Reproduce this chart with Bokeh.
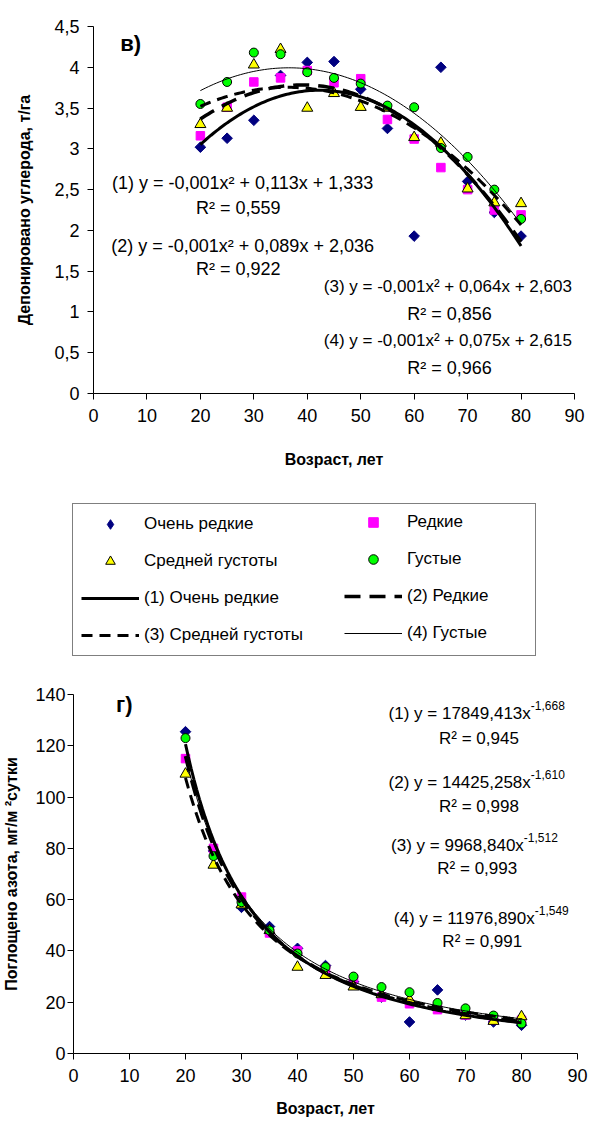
import numpy as np
from bokeh.plotting import figure
from bokeh.models import Range1d, FixedTicker, Label, Legend, LegendItem
from bokeh.embed import file_html
from bokeh.resources import INLINE

FONT = "Liberation Sans"

# ---------------- data ----------------
ages = [20, 25, 30, 35, 40, 45, 50, 55, 60, 65, 70, 75, 80]

carbon_very_sparse = [3.02, 3.13, 3.35, 3.90, 4.06, 4.07, 3.73, 3.25, 1.93, 4.00, 2.60, 2.22, 1.93]
carbon_sparse = [3.16, 3.51, 3.82, 3.87, 3.96, 3.81, 3.86, 3.36, 3.12, 2.77, 2.50, 2.25, 2.19]
carbon_medium = [3.30, 3.50, 4.03, 4.22, 3.50, 3.68, 3.51, 3.50, 3.14, 3.07, 2.51, 2.34, 2.33]
carbon_dense = [3.55, 3.82, 4.18, 4.16, 3.94, 3.87, 3.80, 3.53, 3.51, 3.01, 2.90, 2.50, 2.14]

nitrogen_very_sparse = [125.5, 79.0, 57.0, 49.5, 41.0, 34.3, 28.0, 22.0, 12.3, 24.8, 15.0, 12.3, 11.0]
nitrogen_sparse = [115.0, 80.0, 61.0, 47.0, 40.0, 33.0, 29.0, 22.0, 19.4, 17.1, 15.0, 13.0, 13.0]
nitrogen_medium = [109.0, 73.5, 58.0, 48.0, 33.7, 30.5, 26.0, 23.0, 21.0, 18.0, 14.8, 12.6, 14.4]
nitrogen_dense = [123.0, 77.0, 59.0, 48.0, 39.0, 33.7, 30.0, 25.9, 23.9, 19.7, 17.6, 14.8, 11.7]

power_coef = [17849.413, 14425.258, 9968.840, 11976.890]
power_exp = [-1.668, -1.610, -1.512, -1.549]

series_names = ["Очень редкие", "Редкие", "Средней густоты", "Густые"]
trend_names = ["(1) Очень редкие", "(2) Редкие", "(3) Средней густоты", "(4) Густые"]

carbon_eq = ["(1) y = -0,001x² + 0,113x + 1,333",
             "(2) y = -0,001x² + 0,089x + 2,036",
             "(3) y = -0,001x² + 0,064x + 2,603",
             "(4) y = -0,001x² + 0,075x + 2,615"]
carbon_r2 = ["R² = 0,559", "R² = 0,922", "R² = 0,856", "R² = 0,966"]
nitrogen_eq = ["(1) y = 17849,413x", "(2) y = 14425,258x", "(3) y = 9968,840x", "(4) y = 11976,890x"]
nitrogen_exp_txt = ["-1,668", "-1,610", "-1,512", "-1,549"]
nitrogen_r2 = ["R² = 0,945", "R² = 0,998", "R² = 0,993", "R² = 0,991"]

x_ticks = [0, 10, 20, 30, 40, 50, 60, 70, 80, 90]
carbon_ticks = [0, 0.5, 1, 1.5, 2, 2.5, 3, 3.5, 4, 4.5]
carbon_tick_labels = ["0", "0,5", "1", "1,5", "2", "2,5", "3", "3,5", "4", "4,5"]
nitrogen_ticks = [0, 20, 40, 60, 80, 100, 120, 140]
nitrogen_tick_labels = ["0", "20", "40", "60", "80", "100", "120", "140"]

# ---------------- styles ----------------
marker_styles = [
    dict(marker="square", size=7.5, angle=np.pi / 4, fill_color="#000080", line_color="#000080"),
    dict(marker="square", size=8.5, fill_color="#FF00FF", line_color="#FF00FF"),
    dict(marker="triangle", size=11, fill_color="#FFFF00", line_color="#000000", line_width=1),
    dict(marker="circle", size=9, fill_color="#00FF00", line_color="#000000", line_width=1),
]
legend_marker_styles = [
    dict(marker="diamond", fill_color="#000080", line_color="#000080"),
    dict(marker="square", fill_color="#FF00FF", line_color="#FF00FF"),
    dict(marker="triangle", fill_color="#FFFF00", line_color="#000000", line_width=1),
    dict(marker="circle", fill_color="#00FF00", line_color="#000000", line_width=1),
]
line_styles = [
    dict(line_width=3, line_dash="solid"),
    dict(line_width=3.5, line_dash="16 9"),
    dict(line_width=3, line_dash="11 7"),
    dict(line_width=1, line_dash="solid"),
]


def style(p, xt, yt, ylabels, y_standoff, ylab_standoff, xlab_standoff):
    p.outline_line_color = None
    p.xgrid.grid_line_color = None
    p.ygrid.grid_line_color = None
    p.background_fill_color = "white"
    p.border_fill_color = "white"
    for ax in (p.xaxis[0], p.yaxis[0]):
        ax.axis_line_color = "#000000"
        ax.major_tick_line_color = "#000000"
        ax.major_tick_in = 0
        ax.major_tick_out = 6
        ax.minor_tick_line_color = None
        ax.major_label_text_font = FONT
        ax.major_label_text_font_size = "18px"
        ax.major_label_text_color = "#000000"
        ax.axis_label_text_font = FONT
        ax.axis_label_text_font_size = "16px"
        ax.axis_label_text_font_style = "bold"
        ax.axis_label_text_color = "#000000"
    p.xaxis[0].ticker = FixedTicker(ticks=xt)
    p.yaxis[0].ticker = FixedTicker(ticks=yt)
    p.yaxis[0].major_label_overrides = {t: l for t, l in zip(yt, ylabels)}
    p.xaxis[0].major_label_standoff = 9
    p.yaxis[0].major_label_standoff = y_standoff
    p.yaxis[0].axis_label_standoff = ylab_standoff
    p.xaxis[0].axis_label_standoff = xlab_standoff


xs_fit = np.linspace(min(ages), max(ages), 121)

# ---------------- top chart (в) ----------------
p1 = figure(width=597, height=490, x_range=Range1d(0, 90), y_range=Range1d(0, 4.5),
            output_backend="svg", toolbar_location=None,
            min_border_left=93, min_border_right=23, min_border_top=26, min_border_bottom=97,
            x_axis_label="Возраст, лет", y_axis_label="Депонировано углерода, т/га")
style(p1, x_ticks, carbon_ticks, carbon_tick_labels, 8, 18, 26)

carbon_series = [carbon_very_sparse, carbon_sparse, carbon_medium, carbon_dense]
for vals, ms in zip(carbon_series, marker_styles):
    p1.scatter(ages, vals, **ms)
for vals, ls in zip(carbon_series, line_styles):
    coef = np.polyfit(ages, vals, 2)
    p1.line(xs_fit, np.polyval(coef, xs_fit), line_color="black", **ls)

carbon_eq_pos = [(27.9, 2.585), (27.9, 1.81), (66.3, 1.31), (66.3, 0.65)]
carbon_r2_pos = [(27.1, 2.28), (27.1, 1.53), (66.6, 0.98), (66.6, 0.31)]
carbon_eq_size = ["18px", "18px", "17px", "17px"]
for txt, (x, y), fs in zip(carbon_eq, carbon_eq_pos, carbon_eq_size):
    p1.add_layout(Label(x=x, y=y, text=txt, text_align="center", text_baseline="middle",
                        text_font=FONT, text_font_size=fs, text_color="black"))
for txt, (x, y) in zip(carbon_r2, carbon_r2_pos):
    p1.add_layout(Label(x=x, y=y, text=txt, text_align="center", text_baseline="middle",
                        text_font=FONT, text_font_size="18px", text_color="black"))
p1.add_layout(Label(x=5.0, y=4.29, text="в)", text_align="left", text_baseline="middle",
                    text_font=FONT, text_font_size="22px", text_font_style="bold", text_color="black"))

# ---------------- legend panel ----------------
pl = figure(width=597, height=180, x_range=Range1d(0, 1), y_range=Range1d(0, 1),
            output_backend="svg", toolbar_location=None,
            x_axis_location=None, y_axis_location=None, min_border=0)
pl.outline_line_color = None
pl.xgrid.grid_line_color = None
pl.ygrid.grid_line_color = None
pl.background_fill_color = "white"
pl.border_fill_color = "white"
# legend renderers reuse the data; they fall outside this panel's ranges, so only the legend shows
leg_pts = [pl.scatter(ages, vals, **ms) for vals, ms in zip(carbon_series, legend_marker_styles)]
leg_lines = [pl.line(ages, vals, line_color="black", **ls) for vals, ls in zip(carbon_series, line_styles)]

leg_common = dict(label_text_font=FONT, label_text_font_size="17px", label_text_color="black",
                  glyph_width=58, glyph_height=24, label_height=24, label_standoff=5,
                  spacing=13, padding=8, margin=0)
legA = Legend(items=[LegendItem(label=series_names[0], renderers=[leg_pts[0]]),
                     LegendItem(label=series_names[2], renderers=[leg_pts[2]]),
                     LegendItem(label=trend_names[0], renderers=[leg_lines[0]]),
                     LegendItem(label=trend_names[2], renderers=[leg_lines[2]])],
              location=(72, 14), label_width=383,
              border_line_color="black", border_line_width=1,
              background_fill_color="white", **leg_common)
legB = Legend(items=[LegendItem(label=series_names[1], renderers=[leg_pts[1]]),
                     LegendItem(label=series_names[3], renderers=[leg_pts[3]]),
                     LegendItem(label=trend_names[1], renderers=[leg_lines[1]]),
                     LegendItem(label=trend_names[3], renderers=[leg_lines[3]])],
              location=(344, 25), label_width=100,
              border_line_color=None, background_fill_alpha=0, **leg_common)
pl.add_layout(legA)
pl.add_layout(legB)

# ---------------- bottom chart (г) ----------------
p2 = figure(width=597, height=466, x_range=Range1d(0, 90), y_range=Range1d(0, 140),
            output_backend="svg", toolbar_location=None,
            min_border_left=70, min_border_right=20, min_border_top=24, min_border_bottom=83,
            x_axis_label="Возраст, лет", y_axis_label="Поглощено азота, мг/м ²сутки")
style(p2, x_ticks, nitrogen_ticks, nitrogen_tick_labels, 2, 12, 15)

nitrogen_series = [nitrogen_very_sparse, nitrogen_sparse, nitrogen_medium, nitrogen_dense]
for vals, ms in zip(nitrogen_series, marker_styles):
    p2.scatter(ages, vals, **ms)
for a, b, ls in zip(power_coef, power_exp, line_styles):
    p2.line(xs_fit, a * xs_fit ** b, line_color="black", **ls)

nit_eq_pos = [(81.66, 132.6), (81.66, 105.7), (80.42, 81.1), (82.37, 52.7)]
nit_sup_y = [135.6, 108.7, 84.1, 55.7]
nit_r2_pos = [(72.4, 122.9), (72.4, 96.3), (72.1, 72.2), (73.0, 43.7)]
for txt, sup, (x, y), sy in zip(nitrogen_eq, nitrogen_exp_txt, nit_eq_pos, nit_sup_y):
    p2.add_layout(Label(x=x, y=y, text=txt, text_align="right", text_baseline="middle",
                        text_font=FONT, text_font_size="17px", text_color="black"))
    p2.add_layout(Label(x=x, y=sy, text=sup, text_align="left", text_baseline="middle",
                        text_font=FONT, text_font_size="12px", text_color="black"))
for txt, (x, y) in zip(nitrogen_r2, nit_r2_pos):
    p2.add_layout(Label(x=x, y=y, text=txt, text_align="center", text_baseline="middle",
                        text_font=FONT, text_font_size="17px", text_color="black"))
p2.add_layout(Label(x=7.6, y=136.1, text="г)", text_align="left", text_baseline="middle",
                    text_font=FONT, text_font_size="22px", text_font_style="bold", text_color="black"))

open("out.html", "w").write(file_html([p1, pl, p2], INLINE))
